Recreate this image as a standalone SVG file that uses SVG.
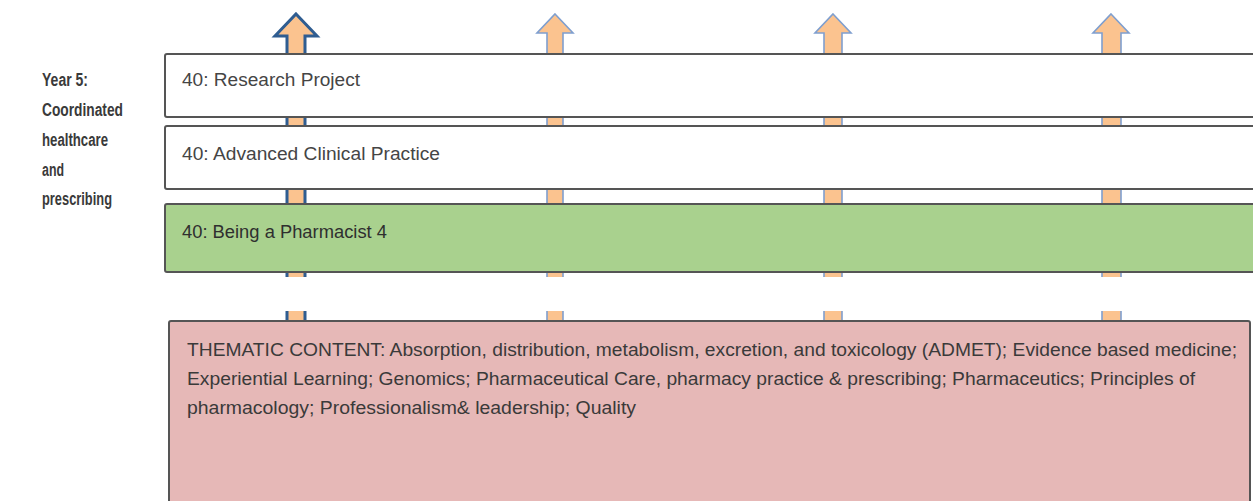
<svg xmlns="http://www.w3.org/2000/svg" width="1253" height="501" viewBox="0 0 1253 501">
<style>
.box{stroke:#555;stroke-width:2}
.arr{fill:#fbc38f;stroke:#7f9fcf;stroke-width:1.6;stroke-linejoin:miter}
.arr1{fill:#fbc38f;stroke:#2f5d91;stroke-width:3;stroke-linejoin:miter}
.bt{font-family:"Liberation Sans Narrow","Liberation Sans",Arial,sans-serif;font-size:17.5px;fill:#454545}
.tt{font-family:"Liberation Sans Narrow","Liberation Sans",Arial,sans-serif;font-size:17.5px;fill:#3a3a3a}
.lt{font-family:"Liberation Sans Narrow","Liberation Sans",Arial,sans-serif;font-size:18px;font-weight:bold;fill:#3a3a3a}
</style>
<rect width="1253" height="501" fill="#ffffff"/>
<g id="connectors">
<polygon class="arr1" points="296,14 317,36 305,36 305,322 287,322 287,36 275,36"/>
<polygon class="arr" points="555,14 573,33 563,33 563,322 547,322 547,33 537,33"/>
<polygon class="arr" points="833,14 851,33 842,33 842,322 824,322 824,33 815,33"/>
<polygon class="arr" points="1111,14 1129,33 1121,33 1121,322 1102,322 1102,33 1093,33"/>
<rect x="160" y="277" width="1100" height="34" fill="#ffffff"/>
</g>
<g id="label">
<text class="lt" x="42" y="86" textLength="46" lengthAdjust="spacingAndGlyphs">Year 5:</text>
<text class="lt" x="42" y="116" textLength="81" lengthAdjust="spacingAndGlyphs">Coordinated</text>
<text class="lt" x="42" y="146" textLength="66" lengthAdjust="spacingAndGlyphs">healthcare</text>
<text class="lt" x="42" y="176" textLength="22" lengthAdjust="spacingAndGlyphs">and</text>
<text class="lt" x="42" y="205" textLength="70" lengthAdjust="spacingAndGlyphs">prescribing</text>
</g>
<g id="research">
<rect class="box" x="165" y="54" width="1100" height="63" rx="2" fill="#ffffff"/>
<text class="bt" x="182" y="86" textLength="178" lengthAdjust="spacingAndGlyphs">40: Research Project</text>
</g>
<g id="clinical">
<rect class="box" x="165" y="126" width="1100" height="63" rx="2" fill="#ffffff"/>
<text class="bt" x="182" y="160" textLength="258" lengthAdjust="spacingAndGlyphs">40: Advanced Clinical Practice</text>
</g>
<g id="pharmacist">
<rect class="box" x="165" y="204" width="1100" height="68" rx="2" fill="#a9d18e"/>
<text class="bt" x="182" y="238" textLength="205" lengthAdjust="spacingAndGlyphs" style="fill:#2f2f2f">40: Being a Pharmacist 4</text>
</g>
<g id="thematic">
<rect class="box" x="169" y="321" width="1081" height="200" rx="2" fill="#e6b8b7"/>
<text class="tt" x="187" y="356" textLength="1050" lengthAdjust="spacingAndGlyphs">THEMATIC CONTENT: Absorption, distribution, metabolism, excretion, and toxicology (ADMET); Evidence based medicine;</text>
<text class="tt" x="187" y="385" textLength="1008" lengthAdjust="spacingAndGlyphs">Experiential Learning; Genomics; Pharmaceutical Care, pharmacy practice &amp; prescribing; Pharmaceutics; Principles of</text>
<text class="tt" x="187" y="414" textLength="449" lengthAdjust="spacingAndGlyphs">pharmacology; Professionalism&amp; leadership; Quality</text>
</g>
</svg>
